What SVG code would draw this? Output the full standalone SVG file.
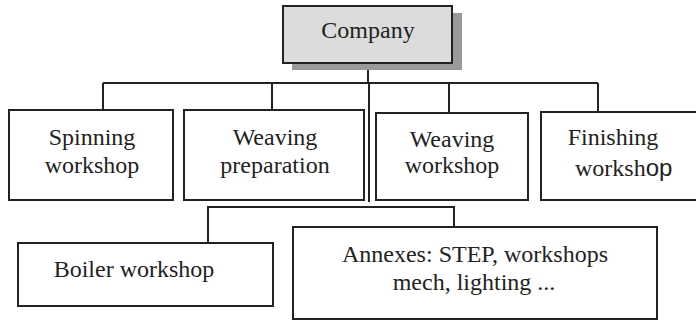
<svg xmlns="http://www.w3.org/2000/svg" width="696" height="320" viewBox="0 0 696 320">
<style>
.box{fill:#fff;stroke:#222;stroke-width:2}
.t{font-family:'Liberation Serif','DejaVu Serif',serif;font-size:24px;fill:#222;text-anchor:middle}
.c{fill:none;stroke:#222;stroke-width:2}
</style>
<rect width="696" height="320" fill="#fff"/>
<g id="connectors">
<path class="c" d="M368 63 V83 M103 83 H598 M103 83 V110 M272 83 V110 M449 83 V113 M598 83 V112 M369 83 V202"/>
<path class="c" d="M208 242 V207 H454 V227"/>
</g>
<g id="company">
<rect x="292" y="13" width="170" height="57" fill="#9a9a9a"/>
<rect x="283" y="6" width="169" height="57" fill="#dcdcdc" stroke="#222" stroke-width="2"/>
<text class="t" x="368" y="38" font-family="Liberation Serif, serif">Company</text>
</g>
<g id="spinning">
<rect class="box" x="9" y="110" width="164" height="90"/>
<text class="t" x="92" y="145">Spinning</text>
<text class="t" x="92" y="173">workshop</text>
</g>
<g id="weaving-prep">
<rect class="box" x="184" y="110" width="180" height="90"/>
<text class="t" x="275" y="145">Weaving</text>
<text class="t" x="275" y="173">preparation</text>
</g>
<g id="weaving-workshop">
<rect class="box" x="376" y="113" width="152" height="87"/>
<text class="t" x="452" y="147">Weaving</text>
<text class="t" x="452" y="173">workshop</text>
</g>
<g id="finishing">
<rect class="box" x="541" y="112" width="160" height="88"/>
<text class="t" x="613" y="145">Finishing</text>
<text class="t" x="575" y="176" style="text-anchor:start">worksh<tspan font-family="Liberation Sans, sans-serif">op</tspan></text>
</g>
<g id="boiler">
<rect class="box" x="18" y="243" width="255" height="63"/>
<text class="t" x="134" y="277">Boiler workshop</text>
</g>
<g id="annexes">
<rect class="box" x="293" y="227" width="364" height="92"/>
<text class="t" x="475" y="262">Annexes: STEP, workshops</text>
<text class="t" x="474" y="290">mech, lighting ...</text>
</g>
</svg>
